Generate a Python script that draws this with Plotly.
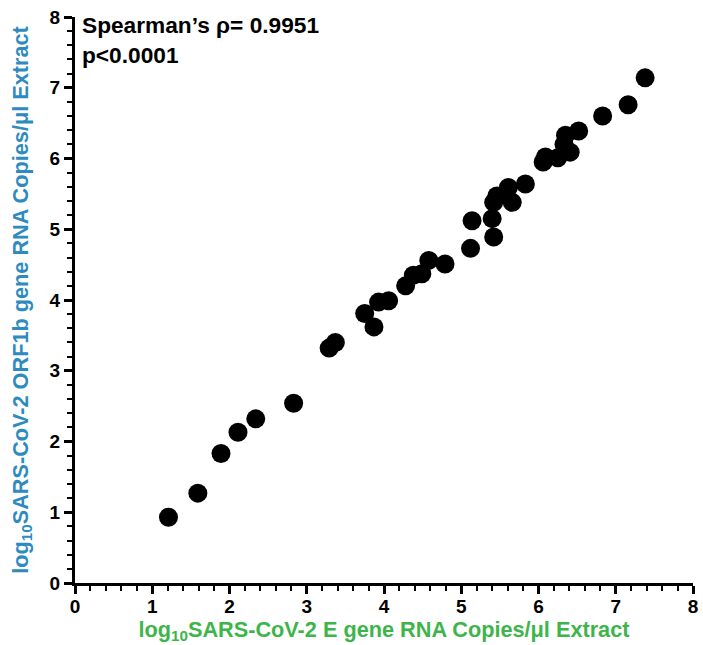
import plotly.graph_objects as go

e_gene = [1.21, 1.59, 1.89, 2.11, 2.34, 2.83, 3.29, 3.37,
          3.75, 3.87, 3.93, 4.06, 4.28, 4.38, 4.49, 4.58, 4.79,
          5.12, 5.14, 5.40, 5.42, 5.42, 5.46, 5.66, 5.61, 5.83,
          6.06, 6.09, 6.25, 6.41, 6.33, 6.35, 6.52,
          6.83, 7.16, 7.38]
orf1b = [0.93, 1.27, 1.83, 2.13, 2.32, 2.54, 3.32, 3.40,
         3.81, 3.62, 3.97, 3.99, 4.20, 4.35, 4.37, 4.56, 4.51,
         4.73, 5.12, 5.15, 4.89, 5.38, 5.47, 5.38, 5.59, 5.64,
         5.95, 6.02, 6.01, 6.09, 6.20, 6.33, 6.39,
         6.60, 6.76, 7.14]
tick_vals = [0, 1, 2, 3, 4, 5, 6, 7, 8]

FONT = "Liberation Sans, Arial, sans-serif"

fig = go.Figure(go.Scatter(
    x=e_gene, y=orf1b, mode="markers",
    marker=dict(size=19, color="black", line=dict(width=0)),
    cliponaxis=False,
))

axis_common = dict(
    range=[0, 8], tickvals=tick_vals, ticks="outside", ticklen=8, tickwidth=2.5,
    showline=True, linecolor="black", linewidth=3, showgrid=False, zeroline=False,
    tickfont=dict(family=FONT, size=19, color="black", weight="bold"),
    minor=dict(dtick=0.2, ticks="outside", ticklen=5, tickwidth=2.2, tickcolor="black"),
    tickcolor="black", automargin=False,
)

fig.update_layout(
    width=703, height=645,
    margin=dict(l=75, r=10, t=17, b=62),
    plot_bgcolor="white", paper_bgcolor="white",
    showlegend=False,
    xaxis=dict(**axis_common, ticklabelstandoff=-4,
               title=dict(text="log<sub>10</sub>SARS-CoV-2 E gene RNA Copies/μl Extract",
                          font=dict(family=FONT, size=21.7, color="#3DB54A", weight="bold"),
                          standoff=4)),
    yaxis=dict(**axis_common,
               title=dict(text="log<sub>10</sub>SARS-CoV-2 ORF1b gene RNA Copies/μl Extract",
                          font=dict(family=FONT, size=21.7, color="#2E8BC0", weight="bold"),
                          standoff=16)),
    annotations=[dict(
        text="Spearman’s ρ= 0.9951<br>p<0.0001",
        xref="paper", yref="paper", x=0.008, y=1.012, xanchor="left", yanchor="top",
        showarrow=False, align="left",
        font=dict(family=FONT, size=22.7, color="black", weight="bold"),
    )],
)

fig.write_html("out.html", config={"displayModeBar": False},
               post_script="document.body.style.margin='0';")
